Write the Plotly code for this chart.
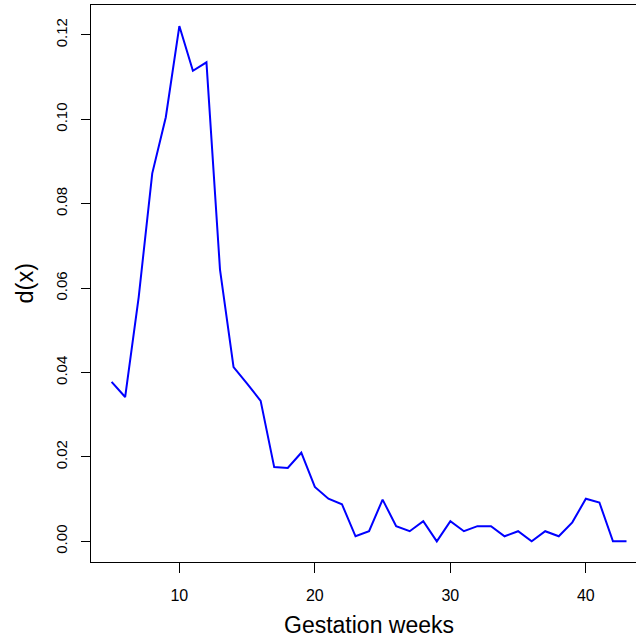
import plotly.graph_objects as go

weeks = [5, 6, 7, 8, 9, 10, 11, 12, 13, 14, 15, 16, 17, 18, 19, 20, 21, 22, 23, 24,
         25, 26, 27, 28, 29, 30, 31, 32, 33, 34, 35, 36, 37, 38, 39, 40, 41, 42, 43]
density = [0.0378, 0.0342, 0.0579, 0.0872, 0.1005, 0.1221, 0.1115, 0.1135, 0.0644, 0.0413,
           0.0374, 0.0333, 0.0176, 0.0174, 0.0210, 0.0129, 0.0101, 0.0088, 0.0012, 0.0024,
           0.0099, 0.0036, 0.0024, 0.0048, 0.0000, 0.0048, 0.0024, 0.0036, 0.0036, 0.0012,
           0.0024, 0.0000, 0.0024, 0.0012, 0.0045, 0.0101, 0.0092, 0.0000, 0.0000]
x_ticks = [10, 20, 30, 40]
y_ticks = [0.00, 0.02, 0.04, 0.06, 0.08, 0.10, 0.12]
x_title = "Gestation weeks"
y_title = "d(x)"

FONT = "Liberation Sans, Arial, sans-serif"

fig = go.Figure()
fig.add_trace(go.Scatter(x=weeks, y=density, mode="lines",
                         line=dict(color="#0000FF", width=2), showlegend=False,
                         hoverinfo="skip"))

fig.update_layout(
    width=636, height=641,
    margin=dict(l=91, r=0, t=5, b=79),
    paper_bgcolor="white", plot_bgcolor="white",
    font=dict(family=FONT, color="black"),
    showlegend=False,
)
fig.update_xaxes(
    range=[3.48, 43.70], tickmode="array", tickvals=x_ticks,
    ticktext=[str(v) for v in x_ticks],
    showgrid=False, zeroline=False,
    showline=True, linecolor="black", linewidth=1, mirror=True,
    ticks="outside", ticklen=10, tickcolor="black", tickwidth=1,
    ticklabelstandoff=9,
    tickfont=dict(size=16, family=FONT, color="black"),
)
fig.update_yaxes(
    range=[-0.00489, 0.12709], tickmode="array", tickvals=y_ticks,
    ticktext=["%.2f" % v for v in y_ticks], tickangle=-90,
    showgrid=False, zeroline=False,
    showline=True, linecolor="black", linewidth=1, mirror=False,
    ticks="outside", ticklen=9, tickcolor="black", tickwidth=1,
    ticklabelstandoff=8,
    tickfont=dict(size=15, family=FONT, color="black"),
)

fig.add_annotation(text=x_title, xref="paper", yref="paper",
                   x=(369 - 91) / 545, y=0,
                   xanchor="center", yanchor="bottom", yshift=-(641 - 562) + 1,
                   showarrow=False,
                   font=dict(size=23, family=FONT, color="black"))
fig.add_annotation(text=y_title, xref="paper", yref="paper",
                   x=-(91 - 24) / 545, y=0.5, textangle=-90,
                   xanchor="center", yanchor="middle", showarrow=False,
                   font=dict(size=23.5, family=FONT, color="black"))

fig.write_html("out.html")
